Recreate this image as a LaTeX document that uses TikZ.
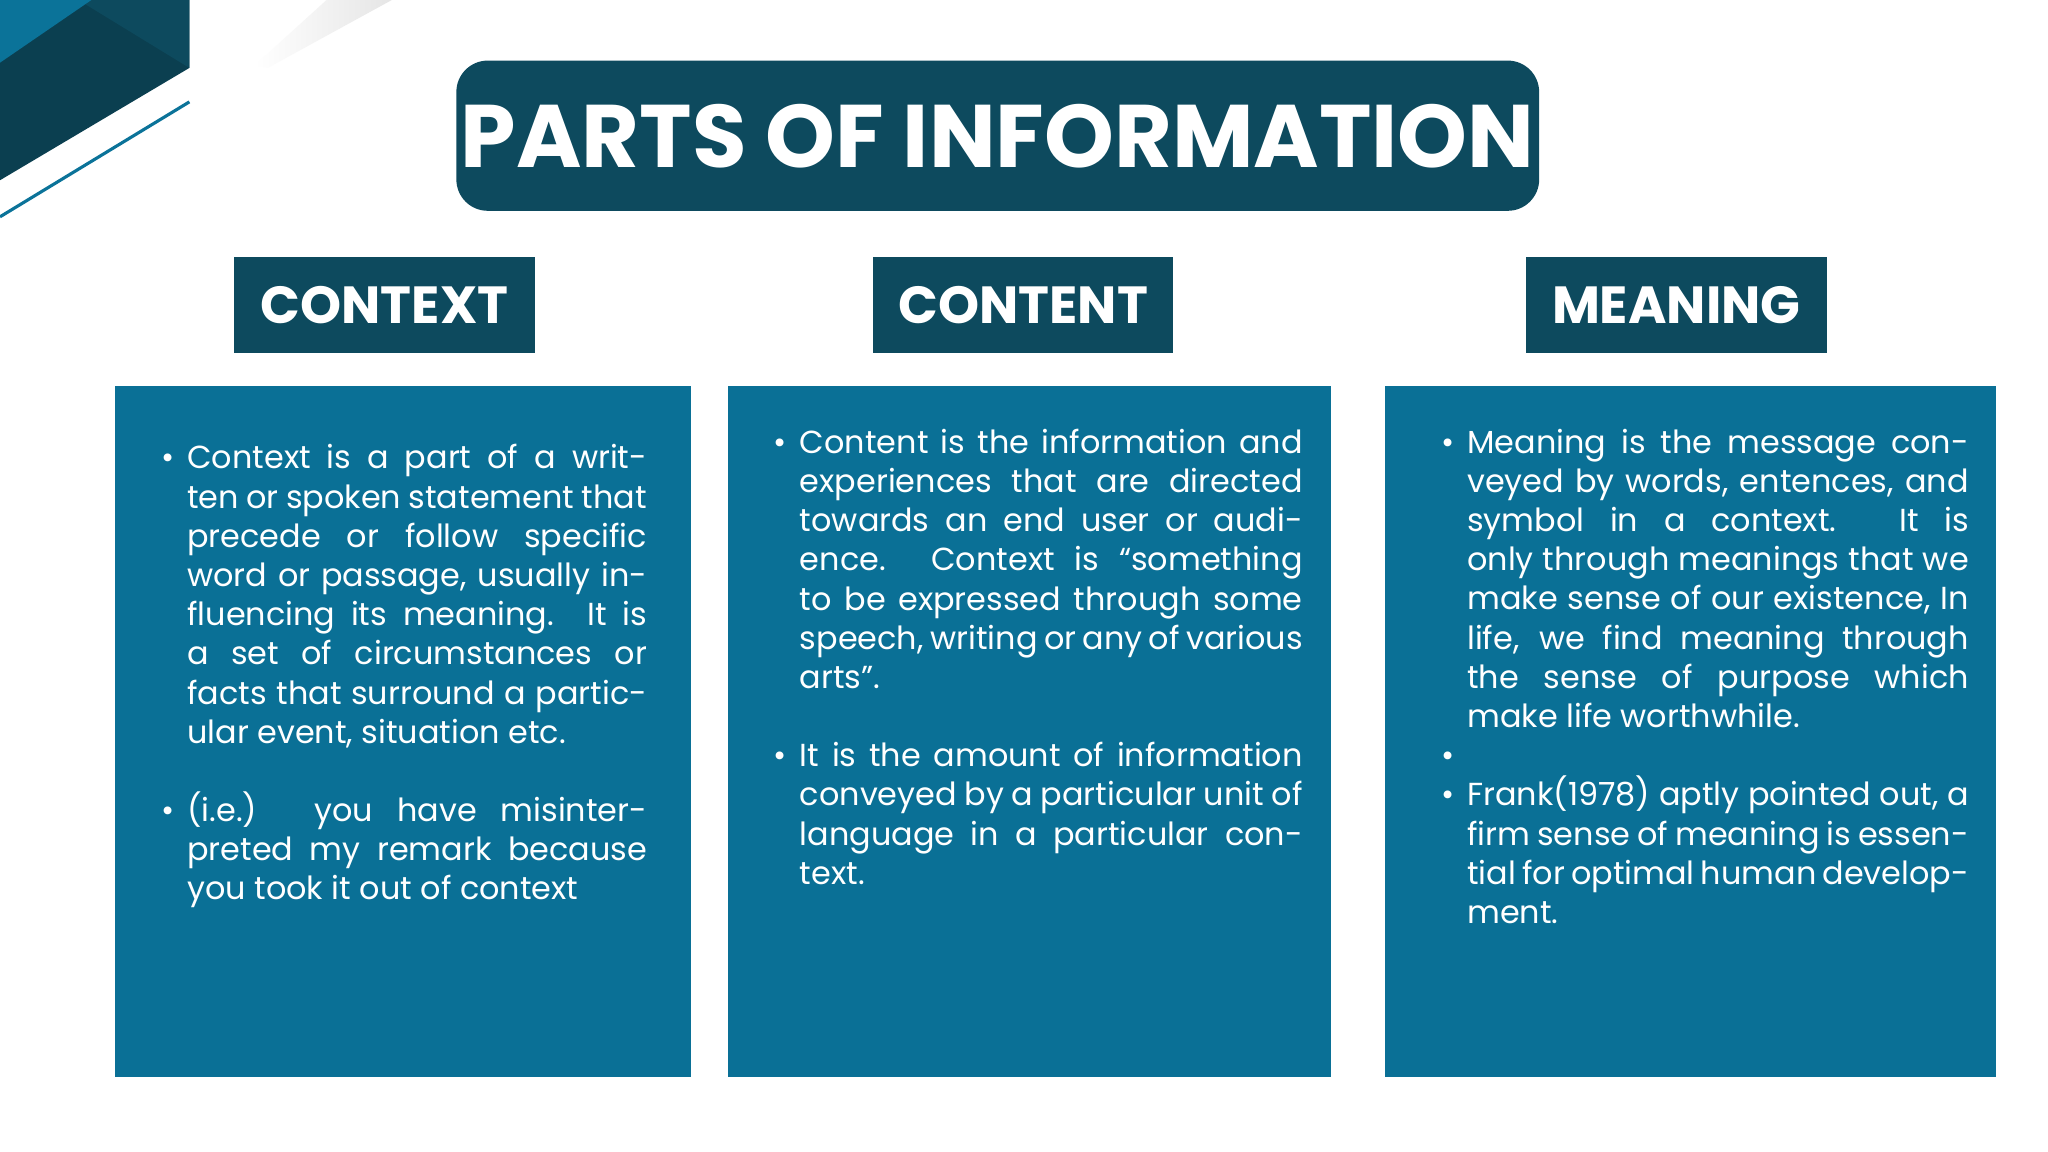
\documentclass[tikz,border=0pt]{standalone}
\usepackage{fontspec}
\setmainfont{Poppins}
\usepackage{enumitem}
\usetikzlibrary{shadings}
\definecolor{dk}{HTML}{0D4A5E}
\definecolor{dk2}{HTML}{0B3F50}
\definecolor{bx}{HTML}{0A7096}
\definecolor{lt}{HTML}{0B7399}
\tikzset{
 hdr/.style={fill=dk,text=white,font=\bfseries\fontsize{20}{24}\selectfont,minimum width=115pt,minimum height=37pt,inner sep=0pt,anchor=north west},
 body/.style={fill=bx,anchor=north west,inner sep=0pt},
 txt/.style={text=white,anchor=north west,inner sep=0pt,font=\fontsize{12.2}{15}\selectfont}
}
\newcommand{\colitems}[2]{\begin{minipage}[t]{#1}\begin{itemize}[leftmargin=10pt,labelsep=5pt,itemsep=15pt,parsep=0pt,topsep=0pt,label=\textbullet]#2\end{itemize}\end{minipage}}
\begin{document}
\begin{tikzpicture}[x=0.5pt,y=-0.5pt]
\useasboundingbox (0,0) rectangle (1568,882);
\fill[white] (0,0) rectangle (1568,882);
% corner decoration
\fill[dk2] (0,0) -- (145,0) -- (145,52) -- (0,138) -- cycle;
\fill[dk] (60,0) -- (145,0) -- (145,52) -- cycle;
\fill[lt] (0,0) -- (70,0) -- (0,48) -- cycle;
\draw[lt,line width=1.2pt] (145,78) -- (0,166);
\shade[left color=white,right color=black!10] (195,50) -- (250,0) -- (300,0) -- (205,52) -- cycle;
% title
\node[fill=dk,rounded corners=12pt,minimum width=414.5pt,minimum height=57.5pt,anchor=north west,inner sep=0pt,text=white,font=\bfseries\fontsize{34}{40}\selectfont] (title) at (349,46) {PARTS OF INFORMATION};
% headers
\node[hdr] (h1) at (179,196) {CONTEXT};
\node[hdr] (h2) at (668,196) {CONTENT};
\node[hdr] (h3) at (1168,196) {MEANING};
% bodies
\node[body,minimum width=220.5pt,minimum height=264.5pt] (b1) at (88,295) {};
\node[body,minimum width=231pt,minimum height=264.5pt] (b2) at (557,295) {};
\node[body,minimum width=234pt,minimum height=264.5pt] (b3) at (1060,295) {};
\node[txt] (t1) at (123,340) {\colitems{186pt}{%
\item Context is a part of a written or spoken statement that precede or follow specific word or passage, usually influencing its meaning. It is a set of circumstances or facts that surround a particular event, situation etc.
\item (i.e.) you have misinterpreted my remark because you took it out of context}};
\node[txt] (t2) at (592,328) {\colitems{202.5pt}{%
\item Content is the information and experiences that are directed towards an end user or audience. Context is “something to be expressed through some speech, writing or any of various arts”.
\item It is the amount of information conveyed by a particular unit of language in a particular context.}};
\node[txt] (t3) at (1103,328) {\colitems{202pt}{%
\item Meaning is the message conveyed by words, entences, and symbol in a context. It is only through meanings that we make sense of our existence, In life, we find meaning through the sense of purpose which make life worthwhile.\vspace{-15pt}
\item \mbox{}\vspace{-15pt}
\item Frank(1978) aptly pointed out, a firm sense of meaning is essential for optimal human development.}};
\end{tikzpicture}
\end{document}
